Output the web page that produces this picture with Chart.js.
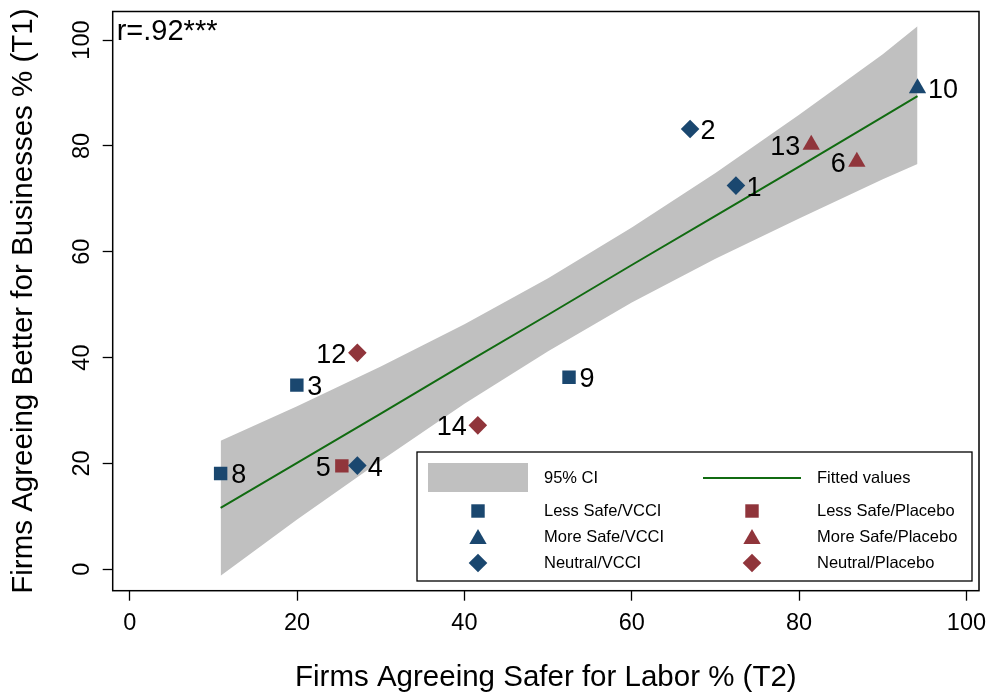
<!DOCTYPE html>
<html>
<head>
<meta charset="utf-8">
<script src="https://cdn.jsdelivr.net/npm/chart.js@4.4.1/dist/chart.umd.min.js"></script>
<style>
  html, body { margin: 0; padding: 0; background: #fff; }
  canvas { display: block; }
</style>
</head>
<body>
<canvas id="chart" width="989" height="696"></canvas>
<script>
// marker groups (x = T2 %, y = T1 %), ids and label side (r/l)
const lessSafeVcciX = [19.97, 10.86, 52.5];
const lessSafeVcciY = [34.8, 18.1, 36.3];
const lessSafeVcciId = ['3', '8', '9'];
const lessSafeVcciPos = ['r', 'r', 'r'];

const moreSafeVcciX = [94.15];
const moreSafeVcciY = [90.9];
const moreSafeVcciId = ['10'];
const moreSafeVcciPos = ['r'];

const neutralVcciX = [72.45, 66.97, 27.2];
const neutralVcciY = [72.5, 83.2, 19.6];
const neutralVcciId = ['1', '2', '4'];
const neutralVcciPos = ['r', 'r', 'r'];

const lessSafePlaceboX = [25.35];
const lessSafePlaceboY = [19.55];
const lessSafePlaceboId = ['5'];
const lessSafePlaceboPos = ['l'];

const moreSafePlaceboX = [81.45, 86.9];
const moreSafePlaceboY = [80.2, 77.0];
const moreSafePlaceboId = ['13', '6'];
const moreSafePlaceboPos = ['l', 'l'];

const neutralPlaceboX = [27.2, 41.6];
const neutralPlaceboY = [40.9, 27.2];
const neutralPlaceboId = ['12', '14'];
const neutralPlaceboPos = ['l', 'l'];

// fitted line and 95% CI band
const ciX = [10.86, 20, 30, 40, 50, 60, 70, 80, 90, 94.15];
const ciLow = [-1.2, 9.4, 20.5, 31.3, 41.2, 50.4, 58.7, 66.3, 73.7, 76.6];
const ciHigh = [24.3, 30.8, 38.3, 46.3, 55.0, 64.6, 74.9, 85.9, 97.3, 102.6];
const fitY = [11.6, 20.1, 29.4, 38.8, 48.1, 57.5, 66.8, 76.1, 85.5, 89.4];

const xTicks = [0, 20, 40, 60, 80, 100];
const yTicks = [0, 20, 40, 60, 80, 100];

const FONT = '"Liberation Sans", Arial, sans-serif';
const navy = '#1a476f';
const maroon = '#90353b';
const ciGray = '#c0c0c0';
const fitGreen = '#116b11';

function pts(xs, ys) {
  return xs.map((x, i) => ({ x: x, y: ys[i] }));
}

const groups = [
  { label: 'Less Safe/VCCI', x: lessSafeVcciX, y: lessSafeVcciY, ids: lessSafeVcciId, pos: lessSafeVcciPos, style: 'rect', r: 9.5, color: navy },
  { label: 'More Safe/VCCI', x: moreSafeVcciX, y: moreSafeVcciY, ids: moreSafeVcciId, pos: moreSafeVcciPos, style: 'triangle', r: 10, color: navy },
  { label: 'Neutral/VCCI', x: neutralVcciX, y: neutralVcciY, ids: neutralVcciId, pos: neutralVcciPos, style: 'rectRot', r: 9.3, color: navy },
  { label: 'Less Safe/Placebo', x: lessSafePlaceboX, y: lessSafePlaceboY, ids: lessSafePlaceboId, pos: lessSafePlaceboPos, style: 'rect', r: 9.5, color: maroon },
  { label: 'More Safe/Placebo', x: moreSafePlaceboX, y: moreSafePlaceboY, ids: moreSafePlaceboId, pos: moreSafePlaceboPos, style: 'triangle', r: 10, color: maroon },
  { label: 'Neutral/Placebo', x: neutralPlaceboX, y: neutralPlaceboY, ids: neutralPlaceboId, pos: neutralPlaceboPos, style: 'rectRot', r: 9.3, color: maroon },
];

const datasets = [
  { label: 'ciLow', data: pts(ciX, ciLow), showLine: true, pointRadius: 0, borderWidth: 0, borderColor: 'rgba(0,0,0,0)', fill: false, order: 10 },
  { label: '95% CI', data: pts(ciX, ciHigh), showLine: true, pointRadius: 0, borderWidth: 0, borderColor: 'rgba(0,0,0,0)', backgroundColor: ciGray, fill: '-1', order: 9 },
  { label: 'Fitted values', data: pts(ciX, fitY), showLine: true, pointRadius: 0, borderWidth: 2, borderColor: fitGreen, fill: false, order: 5 },
];
groups.forEach(g => {
  datasets.push({
    label: g.label,
    data: pts(g.x, g.y),
    ids: g.ids,
    pos: g.pos,
    pointStyle: g.style,
    pointRadius: g.r,
    pointBackgroundColor: g.color,
    pointBorderWidth: 0,
    showLine: false,
    order: 0,
  });
});

// number labels next to markers
const pointLabels = {
  id: 'pointLabels',
  afterDatasetsDraw(chart) {
    const ctx = chart.ctx;
    ctx.save();
    ctx.font = '27px ' + FONT;
    ctx.fillStyle = '#000';
    ctx.textBaseline = 'middle';
    chart.data.datasets.forEach((ds, i) => {
      if (!ds.ids) return;
      chart.getDatasetMeta(i).data.forEach((pt, j) => {
        const left = ds.pos[j] === 'l';
        ctx.textAlign = left ? 'right' : 'left';
        ctx.fillText(ds.ids[j], pt.x + (left ? -11 : 10.5), pt.y + 2.5);
      });
    });
    ctx.restore();
  }
};

// frame, rotated y tick labels, r annotation, legend
const extras = {
  id: 'extras',
  afterDraw(chart) {
    const ctx = chart.ctx;
    const a = chart.chartArea;
    const ys = chart.scales.y;
    ctx.save();

    ctx.strokeStyle = '#000';
    ctx.lineWidth = 1.5;
    ctx.strokeRect(a.left, a.top, a.right - a.left, a.bottom - a.top);

    ctx.fillStyle = '#000';
    ctx.font = '23.5px ' + FONT;
    ctx.textAlign = 'center';
    ctx.textBaseline = 'alphabetic';
    ys.ticks.forEach(t => {
      ctx.save();
      ctx.translate(89, ys.getPixelForValue(t.value));
      ctx.rotate(-Math.PI / 2);
      ctx.fillText(String(t.value), 0, 0);
      ctx.restore();
    });

    ctx.font = '29px ' + FONT;
    ctx.textAlign = 'left';
    ctx.fillText('r=.92***', a.left + 4, a.top + 28);

    // legend box
    const bx = 417, by = 452, bw = 555, bh = 129;
    ctx.fillStyle = '#fff';
    ctx.fillRect(bx, by, bw, bh);
    ctx.strokeStyle = '#000';
    ctx.lineWidth = 1.3;
    ctx.strokeRect(bx, by, bw, bh);

    ctx.fillStyle = ciGray;
    ctx.fillRect(428, 463, 100, 29);
    ctx.strokeStyle = fitGreen;
    ctx.lineWidth = 2;
    ctx.beginPath();
    ctx.moveTo(703, 478);
    ctx.lineTo(801, 478);
    ctx.stroke();

    ctx.font = '16.5px ' + FONT;
    ctx.textBaseline = 'middle';
    ctx.fillStyle = '#000';
    ctx.fillText('95% CI', 544, 478);
    ctx.fillText('Fitted values', 817, 478);

    const rowY = [511, 537, 563];
    groups.forEach((g, i) => {
      const col = i < 3 ? 0 : 1;
      const yy = rowY[i % 3];
      const mx = col === 0 ? 478 : 752;
      const tx = col === 0 ? 544 : 817;
      ctx.fillStyle = g.color;
      Chart.helpers.drawPoint(ctx, { pointStyle: g.style, radius: g.r, borderWidth: 0, rotation: 0 }, mx, yy + (g.style === 'triangle' ? 2 : 0));
      ctx.fillStyle = '#000';
      ctx.fillText(g.label, tx, yy);
    });

    ctx.restore();
  }
};

Chart.defaults.font.family = FONT;
Chart.defaults.color = '#000';

new Chart(document.getElementById('chart'), {
  type: 'scatter',
  data: { datasets: datasets },
  options: {
    responsive: false,
    animation: false,
    devicePixelRatio: 1,
    events: [],
    layout: { padding: { top: 11.5, right: 9.5, left: 0, bottom: 0 } },
    plugins: {
      legend: { display: false },
      tooltip: { enabled: false },
    },
    scales: {
      x: {
        type: 'linear',
        min: -2.04,
        max: 101.5,
        afterBuildTicks: s => { s.ticks = xTicks.map(v => ({ value: v })); },
        afterFit: s => { s.height = 105.3; s.paddingLeft = 0; s.paddingRight = 0; },
        ticks: { font: { size: 23.5 }, color: '#000', padding: 8.5, maxRotation: 0 },
        grid: { drawOnChartArea: false, tickLength: 10, tickColor: '#000', tickWidth: 1.3 },
        border: { display: false },
        title: { display: true, text: 'Firms Agreeing Safer for Labor % (T2)', font: { size: 29.5 }, color: '#000', padding: { top: 0, bottom: 0 } },
      },
      y: {
        type: 'linear',
        min: -4.04,
        max: 105.4,
        afterBuildTicks: s => { s.ticks = yTicks.map(v => ({ value: v })); },
        afterFit: s => { s.width = 112.7; s.paddingTop = 0; s.paddingBottom = 0; },
        ticks: { display: false },
        grid: { drawOnChartArea: false, tickLength: 10, tickColor: '#000', tickWidth: 1.3 },
        border: { display: false },
        title: { display: true, text: 'Firms Agreeing Better for Businesses % (T1)', font: { size: 29.5 }, color: '#000', padding: { top: 6.5, bottom: 0 } },
      },
    },
  },
  plugins: [pointLabels, extras],
});
</script>
</body>
</html>
